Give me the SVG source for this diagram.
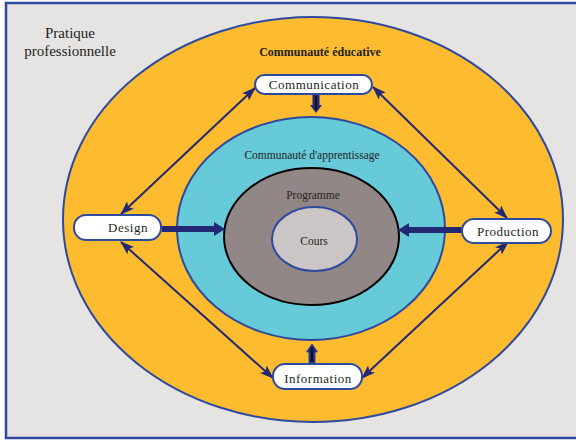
<svg xmlns="http://www.w3.org/2000/svg" width="576" height="441" viewBox="0 0 576 441">
<defs>
<marker id="ah" viewBox="0 0 14 10" refX="13" refY="5" markerWidth="14" markerHeight="10" markerUnits="userSpaceOnUse" orient="auto-start-reverse">
<path d="M0,0 L14,5 L0,10 L3,5 Z" fill="#232873"/>
</marker>
</defs>
<style>
.ring{stroke:#2e4a9e;stroke-width:2}
.node rect{fill:#fff;stroke:#2e4a9e;stroke-width:2}
text{font-family:'Liberation Serif','Times New Roman','DejaVu Serif',serif;fill:#231f20;text-anchor:middle}
.nt{font-size:13px;letter-spacing:0.5px}
.dbl{stroke:#232873;stroke-width:2;fill:none;marker-start:url(#ah);marker-end:url(#ah)}
.thick{fill:#232873}
</style>
<rect x="6" y="3" width="574" height="435" fill="#e6e3e3" stroke="#2e4a9e" stroke-width="2.5"/>
<g id="pratique">
<text x="70" y="38" font-size="15" font-family="Liberation Serif, DejaVu Serif, serif">Pratique</text>
<text x="70" y="56" font-size="15" font-family="Liberation Serif, DejaVu Serif, serif">professionnelle</text>
</g>
<g id="communaute-educative">
<ellipse class="ring" cx="313" cy="219.5" rx="250" ry="202.5" fill="#fdbb2f"/>
<text x="320" y="56" font-size="12" font-weight="bold" font-family="Liberation Serif, DejaVu Serif, serif">Communauté éducative</text>
</g>
<g id="communaute-apprentissage">
<ellipse class="ring" cx="311" cy="228.5" rx="134" ry="111.5" fill="#66cad9"/>
<text x="312" y="159" font-size="11.5" font-family="Liberation Serif, DejaVu Serif, serif">Communauté d'apprentissage</text>
</g>
<g id="programme">
<ellipse cx="311.5" cy="236.5" rx="87.5" ry="68.5" fill="#918787" stroke="#000" stroke-width="2"/>
<text x="313" y="199" font-size="11.5" font-family="Liberation Serif, DejaVu Serif, serif">Programme</text>
</g>
<g id="cours">
<ellipse cx="314.5" cy="239" rx="42.5" ry="32" fill="#cbc5c6" stroke="#2e4a9e" stroke-width="2"/>
<text x="314" y="245" font-size="11.5" font-family="Liberation Serif, DejaVu Serif, serif">Cours</text>
</g>
<g id="connectors">
<line class="dbl" x1="255" y1="88" x2="121" y2="214"/>
<line class="dbl" x1="373" y1="87" x2="507" y2="218"/>
<line class="dbl" x1="121" y1="242" x2="273" y2="378"/>
<line class="dbl" x1="508" y1="242" x2="362" y2="378"/>
<path class="thick" d="M162,226 L214,226 L214,222 L225,229 L214,236 L214,232 L162,232 Z"/>
<path class="thick" d="M462,227 L409,227 L409,223 L398,230 L409,237 L409,233 L462,233 Z"/>
<path class="thick" d="M312.5,95 L319.5,95 L319.5,105 L322,105 L316,113 L310,105 L312.5,105 Z"/>
<line x1="316" y1="96" x2="316" y2="110" stroke="#000" stroke-width="1.2"/>
<path class="thick" d="M309,363 L315,363 L315,352 L317.5,352 L312,344 L306.5,352 L309,352 Z"/>
<path d="M309,363 L315,363 L315,352 L317.5,352 L312,344 L306.5,352 L309,352 Z" fill="none" stroke="#2e4a9e" stroke-width="1"/>
<line x1="312" y1="362" x2="312" y2="347" stroke="#000" stroke-width="1.2"/>
</g>
<g id="communication" class="node">
<rect x="255" y="75" width="117" height="19" rx="9.5"/>
<text class="nt" x="314" y="89" font-family="Liberation Serif, DejaVu Serif, serif">Communication</text>
</g>
<g id="design" class="node">
<rect x="74" y="215" width="87" height="25" rx="12"/>
<text class="nt" x="128" y="232" font-family="Liberation Serif, DejaVu Serif, serif">Design</text>
</g>
<g id="production" class="node">
<rect x="462" y="219" width="89" height="24" rx="12"/>
<text class="nt" x="508" y="236" font-family="Liberation Serif, DejaVu Serif, serif">Production</text>
</g>
<g id="information" class="node">
<rect x="273" y="364" width="89" height="25" rx="12"/>
<text class="nt" x="318" y="383" font-family="Liberation Serif, DejaVu Serif, serif">Information</text>
</g>
</svg>
